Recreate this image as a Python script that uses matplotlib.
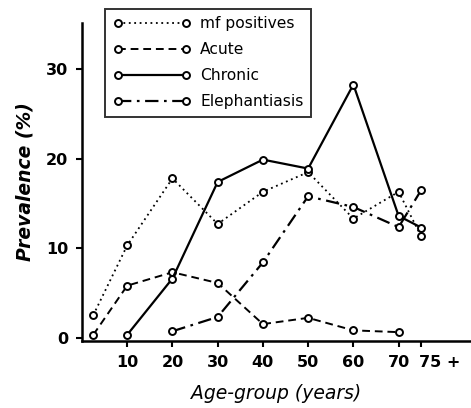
import numpy as np
import matplotlib.pyplot as plt
from matplotlib.lines import Line2D
import matplotlib.transforms as mtransforms

plt.rcParams['font.family'] = ['DejaVu Sans']

# age groups (midpoints), last one is "75 +"
age_mf = [2.5, 10, 20, 30, 40, 50, 60, 70, 75]
mf_pos = [2.5, 10.3, 17.8, 12.7, 16.3, 18.5, 13.3, 16.3, 11.3]

age_acute = [2.5, 10, 20, 30, 40, 50, 60, 70]
acute = [0.3, 5.8, 7.3, 6.1, 1.5, 2.2, 0.8, 0.6]

age_chronic = [10, 20, 30, 40, 50, 60, 70, 75]
chronic = [0.3, 6.6, 17.4, 19.9, 18.9, 28.3, 13.6, 12.3]

age_eleph = [20, 30, 40, 50, 60, 70, 75]
eleph = [0.7, 2.3, 8.4, 15.8, 14.6, 12.35, 16.5]

xticks = [10, 20, 30, 40, 50, 60, 70, 75]
xticklabels = ['10', '20', '30', '40', '50', '60', '70', '75 +']
yticks = [0, 10, 20, 30]

fig = plt.figure(figsize=(4.71, 4.08), dpi=100)
ax = fig.add_axes([0.174, 0.164, 0.826, 0.78])

mk = dict(marker='o', markersize=5, markerfacecolor='white',
          markeredgecolor='black', markeredgewidth=1.4, color='black')

ls_mf = (0, (1, 2))
ls_acute = (0, (4, 2.5))
ls_eleph = (0, (6, 2.5, 1.2, 2.5))

ax.plot(age_mf, mf_pos, linestyle=ls_mf, linewidth=1.3, **mk)
ax.plot(age_acute, acute, linestyle=ls_acute, linewidth=1.4, **mk)
ax.plot(age_chronic, chronic, linestyle='-', linewidth=1.6, **mk)
ax.plot(age_eleph, eleph, linestyle=ls_eleph, linewidth=1.6, **mk)

ax.set_xlim(0, 86)
ax.set_ylim(-0.4, 35.2)
ax.set_xticks(xticks)
ax.set_xticklabels(xticklabels)
ax.set_yticks(yticks)

for s in ['top', 'right']:
    ax.spines[s].set_visible(False)
ax.spines['left'].set_linewidth(1.8)
ax.spines['bottom'].set_linewidth(1.8)
ax.tick_params(axis='both', direction='out', length=4, width=1.5,
               labelsize=11.5, pad=6)
for lab in ax.get_xticklabels() + ax.get_yticklabels():
    lab.set_fontweight('bold')

# "75 +" starts at its tick
last = ax.get_xticklabels()[-1]
last.set_horizontalalignment('left')
last.set_transform(last.get_transform() +
                   mtransforms.ScaledTranslation(-2 / 100, 0, fig.dpi_scale_trans))

ax.set_xlabel('Age-group (years)', fontsize=13.5, style='italic', labelpad=10)
ax.set_ylabel('Prevalence (%)', fontsize=13.5, style='italic',
              fontweight='bold', labelpad=8)

handles = [
    Line2D([], [], linestyle=ls_mf, linewidth=1.3, **mk),
    Line2D([], [], linestyle=ls_acute, linewidth=1.4, **mk),
    Line2D([], [], linestyle='-', linewidth=1.6, **mk),
    Line2D([], [], linestyle=ls_eleph, linewidth=1.6, **mk),
]
leg = ax.legend(handles, ['mf positives', 'Acute', 'Chronic', 'Elephantiasis'],
                loc='upper left', bbox_to_anchor=(0.06, 1.045),
                fontsize=11.2, frameon=True, fancybox=False, edgecolor='black',
                handlelength=5.0, borderpad=0.5, labelspacing=0.7,
                handletextpad=0.6, numpoints=2, borderaxespad=0)
leg.get_frame().set_linewidth(1.4)

fig.savefig('out.png', dpi=100)
